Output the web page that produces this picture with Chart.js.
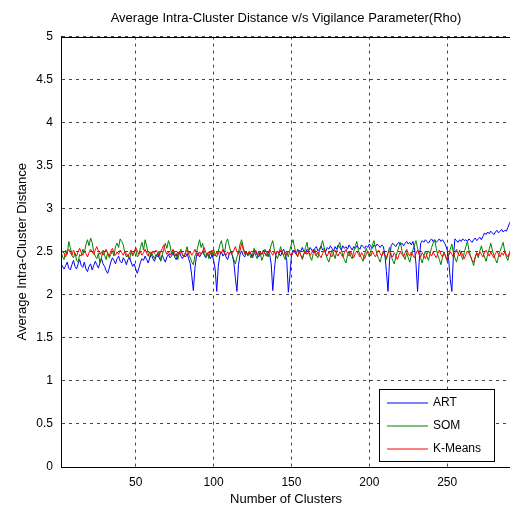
<!DOCTYPE html>
<html>
<head>
<meta charset="utf-8">
<script src="https://cdn.jsdelivr.net/npm/chart.js@4"></script>
<style>
    html, body { margin: 0; padding: 0; background: #fff; overflow: hidden; }
    canvas { display: block; }
</style>
</head>
<body>
<canvas id="chart" width="511" height="512"></canvas>
<script>
// Average intra-cluster distance per number of clusters (x = 2 .. 291)
const art = [
    2.36, 2.33, 2.30, 2.34, 2.38, 2.31, 2.29, 2.35, 2.40, 2.33,
    2.30, 2.36, 2.41, 2.34, 2.32, 2.38, 2.30, 2.27, 2.33, 2.36,
    2.29, 2.34, 2.39, 2.35, 2.31, 2.37, 2.42, 2.36, 2.33, 2.28,
    2.25, 2.31, 2.38, 2.43, 2.40, 2.36, 2.42, 2.45, 2.39, 2.37,
    2.43, 2.40, 2.35, 2.41, 2.44, 2.38, 2.33, 2.36, 2.30, 2.25,
    2.31, 2.38, 2.42, 2.40, 2.45, 2.41, 2.37, 2.43, 2.47, 2.42,
    2.39, 2.44, 2.48, 2.43, 2.40, 2.46, 2.42, 2.38, 2.44, 2.47,
    2.43, 2.45, 2.49, 2.44, 2.41, 2.47, 2.50, 2.45, 2.42, 2.46,
    2.44, 2.48, 2.42, 2.36, 2.22, 2.05, 2.31, 2.45, 2.49, 2.44,
    2.47, 2.50, 2.46, 2.43, 2.48, 2.45, 2.42, 2.47, 2.40, 2.30,
    2.04, 2.33, 2.46, 2.50, 2.45, 2.48, 2.44, 2.41, 2.47, 2.50,
    2.46, 2.38, 2.19, 2.04, 2.35, 2.47, 2.51, 2.46, 2.44, 2.49,
    2.46, 2.50, 2.47, 2.43, 2.48, 2.51, 2.46, 2.44, 2.49, 2.47,
    2.52, 2.48, 2.45, 2.50, 2.47, 2.36, 2.05, 2.28, 2.47, 2.51,
    2.48, 2.45, 2.50, 2.53, 2.47, 2.40, 2.03, 2.22, 2.46, 2.52,
    2.50, 2.47, 2.53, 2.49, 2.51, 2.55, 2.50, 2.48, 2.53, 2.51,
    2.55, 2.52, 2.49, 2.54, 2.56, 2.51, 2.53, 2.57, 2.52, 2.54,
    2.50, 2.55, 2.53, 2.57, 2.54, 2.51, 2.56, 2.53, 2.58, 2.55,
    2.52, 2.57, 2.54, 2.56, 2.53, 2.58, 2.55, 2.52, 2.56, 2.54,
    2.57, 2.55, 2.53, 2.58, 2.56, 2.54, 2.57, 2.55, 2.59, 2.56,
    2.54, 2.58, 2.56, 2.59, 2.57, 2.55, 2.58, 2.56, 2.47, 2.27,
    2.04, 2.40, 2.57, 2.60, 2.58, 2.56, 2.59, 2.61, 2.58, 2.60,
    2.57, 2.60, 2.62, 2.59, 2.61, 2.58, 2.62, 2.55, 2.35, 2.04,
    2.38, 2.60, 2.63, 2.61, 2.64, 2.62, 2.60, 2.63, 2.65, 2.62,
    2.64, 2.61, 2.63, 2.65, 2.62, 2.64, 2.61, 2.58, 2.52, 2.40,
    2.18, 2.04, 2.45, 2.65, 2.63, 2.61, 2.64, 2.62, 2.65, 2.63,
    2.64, 2.62, 2.65, 2.63, 2.61, 2.64, 2.66, 2.63, 2.65, 2.67,
    2.64, 2.68, 2.72, 2.70, 2.73, 2.71, 2.74, 2.72, 2.70, 2.73,
    2.75, 2.72, 2.74, 2.76, 2.73, 2.75, 2.74, 2.78, 2.83, 2.87
];

const som = [
    2.50, 2.44, 2.41, 2.52, 2.47, 2.62, 2.55, 2.46, 2.43, 2.49,
    2.40, 2.38, 2.47, 2.45, 2.53, 2.49, 2.58, 2.64, 2.57, 2.66,
    2.61, 2.50, 2.45, 2.42, 2.48, 2.37, 2.44, 2.52, 2.46, 2.41,
    2.49, 2.43, 2.47, 2.51, 2.45, 2.56, 2.60, 2.55, 2.65, 2.62,
    2.58, 2.49, 2.44, 2.47, 2.41, 2.50, 2.45, 2.48, 2.53, 2.44,
    2.46, 2.55, 2.61, 2.52, 2.64, 2.57, 2.48, 2.43, 2.50, 2.46,
    2.42, 2.47, 2.44, 2.51, 2.39, 2.46, 2.53, 2.60, 2.54, 2.63,
    2.58, 2.47, 2.51, 2.44, 2.48, 2.41, 2.49, 2.53, 2.46, 2.44,
    2.50, 2.56, 2.47, 2.43, 2.38, 2.35, 2.45, 2.49, 2.57, 2.64,
    2.55, 2.60, 2.48, 2.44, 2.49, 2.42, 2.51, 2.46, 2.53, 2.47,
    2.44, 2.50, 2.58, 2.63, 2.54, 2.48, 2.61, 2.65, 2.57, 2.50,
    2.46, 2.41, 2.36, 2.44, 2.49, 2.59, 2.64, 2.56, 2.47, 2.50,
    2.45, 2.49, 2.43, 2.47, 2.54, 2.46, 2.42, 2.51, 2.48, 2.40,
    2.45, 2.53, 2.49, 2.44, 2.51, 2.58, 2.63, 2.52, 2.46, 2.42,
    2.48, 2.56, 2.50, 2.45, 2.41, 2.49, 2.44, 2.52, 2.59, 2.64,
    2.55, 2.48, 2.44, 2.52, 2.46, 2.41, 2.47, 2.55, 2.61, 2.50,
    2.44, 2.40, 2.48, 2.53, 2.46, 2.43, 2.51, 2.57, 2.63, 2.55,
    2.47, 2.42, 2.38, 2.45, 2.52, 2.48, 2.42, 2.50, 2.56, 2.61,
    2.53, 2.45, 2.41, 2.37, 2.46, 2.51, 2.45, 2.42, 2.50, 2.57,
    2.62, 2.52, 2.46, 2.43, 2.39, 2.47, 2.54, 2.49, 2.44, 2.52,
    2.58, 2.63, 2.54, 2.47, 2.42, 2.38, 2.46, 2.51, 2.45, 2.41,
    2.49, 2.55, 2.46, 2.40, 2.36, 2.44, 2.50, 2.56, 2.61, 2.51,
    2.45, 2.41, 2.49, 2.43, 2.38, 2.46, 2.52, 2.58, 2.63, 2.54,
    2.47, 2.42, 2.37, 2.45, 2.51, 2.45, 2.40, 2.48, 2.55, 2.60,
    2.64, 2.54, 2.46, 2.41, 2.35, 2.44, 2.50, 2.44, 2.39, 2.47,
    2.53, 2.59, 2.49, 2.43, 2.38, 2.46, 2.52, 2.46, 2.41, 2.49,
    2.56, 2.62, 2.52, 2.45, 2.40, 2.34, 2.43, 2.49, 2.43, 2.51,
    2.57, 2.49, 2.44, 2.39, 2.47, 2.53, 2.60, 2.52, 2.46, 2.41,
    2.37, 2.45, 2.51, 2.56, 2.61, 2.50, 2.44, 2.40, 2.48, 2.55
];

const kMeans = [
    2.47, 2.51, 2.48, 2.44, 2.50, 2.53, 2.49, 2.46, 2.52, 2.48,
    2.45, 2.50, 2.54, 2.49, 2.46, 2.51, 2.48, 2.44, 2.49, 2.53,
    2.50, 2.47, 2.52, 2.56, 2.51, 2.47, 2.50, 2.46, 2.49, 2.53,
    2.48, 2.45, 2.51, 2.54, 2.49, 2.46, 2.50, 2.47, 2.52, 2.49,
    2.46, 2.51, 2.48, 2.44, 2.49, 2.52, 2.47, 2.50, 2.55, 2.51,
    2.47, 2.50, 2.46, 2.49, 2.53, 2.48, 2.45, 2.50, 2.47, 2.51,
    2.48, 2.52, 2.49, 2.45, 2.50, 2.54, 2.58, 2.51, 2.47, 2.50,
    2.46, 2.49, 2.53, 2.48, 2.45, 2.50, 2.47, 2.51, 2.48, 2.44,
    2.49, 2.52, 2.47, 2.50, 2.46, 2.49, 2.53, 2.48, 2.45, 2.50,
    2.47, 2.51, 2.55, 2.49, 2.46, 2.50, 2.47, 2.52, 2.48, 2.45,
    2.50, 2.47, 2.51, 2.48, 2.53, 2.49, 2.46, 2.50, 2.47, 2.51,
    2.48, 2.52, 2.56, 2.50, 2.47, 2.51, 2.60, 2.53, 2.48, 2.50,
    2.47, 2.51, 2.48, 2.45, 2.49, 2.52, 2.48, 2.46, 2.50, 2.47,
    2.51, 2.48, 2.45, 2.49, 2.53, 2.49, 2.46, 2.50, 2.47, 2.51,
    2.48, 2.52, 2.49, 2.46, 2.50, 2.47, 2.51, 2.48, 2.45, 2.49,
    2.52, 2.48, 2.45, 2.50, 2.46, 2.43, 2.48, 2.51, 2.47, 2.50,
    2.46, 2.49, 2.53, 2.48, 2.45, 2.50, 2.46, 2.43, 2.48, 2.52,
    2.48, 2.45, 2.50, 2.47, 2.44, 2.49, 2.52, 2.48, 2.45, 2.50,
    2.47, 2.44, 2.49, 2.53, 2.48, 2.45, 2.50, 2.46, 2.43, 2.48,
    2.51, 2.47, 2.44, 2.49, 2.46, 2.42, 2.47, 2.51, 2.48, 2.45,
    2.50, 2.47, 2.44, 2.49, 2.52, 2.48, 2.45, 2.50, 2.46, 2.43,
    2.48, 2.51, 2.47, 2.44, 2.49, 2.46, 2.41, 2.46, 2.50, 2.47,
    2.44, 2.49, 2.53, 2.48, 2.45, 2.50, 2.46, 2.43, 2.48, 2.52,
    2.47, 2.44, 2.49, 2.46, 2.42, 2.47, 2.51, 2.48, 2.45, 2.50,
    2.46, 2.43, 2.48, 2.52, 2.47, 2.44, 2.49, 2.45, 2.41, 2.46,
    2.50, 2.47, 2.44, 2.49, 2.53, 2.48, 2.45, 2.50, 2.46, 2.42,
    2.47, 2.51, 2.48, 2.45, 2.40, 2.38, 2.44, 2.49, 2.46, 2.50,
    2.47, 2.44, 2.49, 2.52, 2.48, 2.45, 2.50, 2.46, 2.43, 2.48,
    2.51, 2.47, 2.44, 2.49, 2.46, 2.50, 2.47, 2.44, 2.49, 2.46
];

const firstClusterCount = 2;
const xTicks = [50, 100, 150, 200, 250];
const yTicks = [0, 0.5, 1, 1.5, 2, 2.5, 3, 3.5, 4, 4.5, 5];

const clusterCounts = art.map((v, i) => firstClusterCount + i);

const fontFamily = '"Liberation Sans", Arial, Helvetica, sans-serif';

// MATLAB style box round the axes
const axesBox = {
    id: 'axesBox',
    afterDatasetsDraw(chart) {
        const { ctx, chartArea: a } = chart;
        ctx.save();
        ctx.strokeStyle = '#000';
        ctx.lineWidth = 1;
        ctx.strokeRect(Math.round(a.left) + 0.5, Math.round(a.top) + 0.5,
            Math.round(a.right - a.left), Math.round(a.bottom - a.top));
        ctx.restore();
    }
};

// legend drawn inside the axes, bottom right
const insideLegend = {
    id: 'insideLegend',
    afterDraw(chart) {
        const { ctx, chartArea: a } = chart;
        const w = 115, h = 72;
        const x = Math.round(a.right) - 17 - w;
        const y = Math.round(a.bottom) - 6 - h;
        ctx.save();
        ctx.fillStyle = '#fff';
        ctx.fillRect(x, y, w, h);
        ctx.strokeStyle = '#000';
        ctx.lineWidth = 1;
        ctx.strokeRect(x + 0.5, y + 0.5, w, h);
        ctx.font = '12px ' + fontFamily;
        ctx.textBaseline = 'middle';
        chart.data.datasets.forEach((ds, i) => {
            const rowY = y + 14 + i * 23;
            ctx.strokeStyle = ds.borderColor;
            ctx.beginPath();
            ctx.moveTo(x + 8, rowY);
            ctx.lineTo(x + 49, rowY);
            ctx.stroke();
            ctx.fillStyle = '#000';
            ctx.fillText(ds.label, x + 54, rowY);
        });
        ctx.restore();
    }
};

const ctx = document.getElementById('chart').getContext('2d');
window.distanceChart = new Chart(ctx, {
    type: 'line',
    data: {
        labels: clusterCounts,
        datasets: [
            { label: 'ART', data: art, borderColor: '#0000ff', order: 3 },
            { label: 'SOM', data: som, borderColor: '#008000', order: 2 },
            { label: 'K-Means', data: kMeans, borderColor: '#ff0000', order: 1 }
        ]
    },
    options: {
        responsive: false,
        animation: false,
        devicePixelRatio: 1,
        layout: { padding: 0 },
        elements: {
            line: { borderWidth: 1, tension: 0 },
            point: { radius: 0 }
        },
        plugins: {
            legend: { display: false },
            tooltip: { enabled: false },
            title: {
                display: true,
                fullSize: false,
                text: 'Average Intra-Cluster Distance v/s Vigilance Parameter(Rho)',
                color: '#000',
                font: { family: fontFamily, size: 13, weight: 'normal' },
                padding: { top: 11, bottom: 10 }
            }
        },
        scales: {
            x: {
                type: 'linear',
                min: 2,
                max: 291,
                afterBuildTicks: scale => { scale.ticks = xTicks.map(v => ({ value: v })); },
                afterFit: scale => { scale.height = 45; },
                ticks: { color: '#000', padding: 8, font: { family: fontFamily, size: 12 } },
                grid: { color: '#444', drawTicks: false },
                border: { color: '#000', dash: [3, 4] },
                title: {
                    display: true,
                    text: 'Number of Clusters',
                    color: '#000',
                    font: { family: fontFamily, size: 13 },
                    padding: { top: 0, bottom: 5 }
                }
            },
            y: {
                min: 0,
                max: 5,
                afterBuildTicks: scale => { scale.ticks = yTicks.map(v => ({ value: v })); },
                afterFit: scale => { scale.width = 61; },
                ticks: {
                    color: '#000',
                    padding: 8,
                    font: { family: fontFamily, size: 12 },
                    callback: value => String(value)
                },
                grid: { color: '#444', drawTicks: false },
                border: { color: '#000', dash: [3, 4] },
                title: {
                    display: true,
                    text: 'Average Intra-Cluster Distance',
                    color: '#000',
                    font: { family: fontFamily, size: 13 },
                    padding: { top: 15, bottom: 0 }
                }
            }
        }
    },
    plugins: [axesBox, insideLegend]
});
</script>
</body>
</html>
